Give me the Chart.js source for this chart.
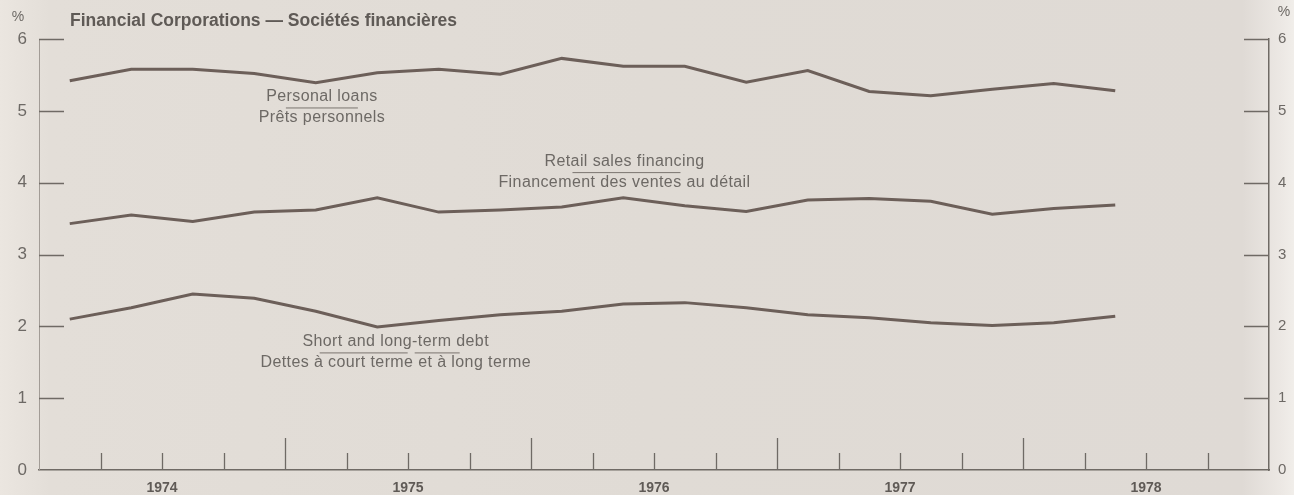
<!DOCTYPE html>
<html>
<head>
<meta charset="utf-8">
<script src="https://cdn.jsdelivr.net/npm/chart.js@4"></script>
<style>
  html, body { margin: 0; padding: 0; }
  body {
    width: 1294px; height: 495px; overflow: hidden;
    background: linear-gradient(to right, #ebe6e0 0px, #e3ded8 50px, #e0dbd5 50%, #dfdad5 96%, #ece8e4 99%, #f1eeea 100%);
  }
  canvas { display: block; }
</style>
</head>
<body>
<canvas id="chart" width="1294" height="495"></canvas>
<script>
// quarterly series, 1974 Q1 – 1978 Q2
const quarters = [
  '1974-Q1', '1974-Q2', '1974-Q3', '1974-Q4',
  '1975-Q1', '1975-Q2', '1975-Q3', '1975-Q4',
  '1976-Q1', '1976-Q2', '1976-Q3', '1976-Q4',
  '1977-Q1', '1977-Q2', '1977-Q3', '1977-Q4',
  '1978-Q1', '1978-Q2'
];
const personalLoans = [5.42, 5.58, 5.58, 5.52, 5.39, 5.53, 5.58, 5.51, 5.73, 5.62, 5.62, 5.40, 5.56, 5.27, 5.21, 5.30, 5.38, 5.28];
const retailSales   = [3.43, 3.55, 3.46, 3.59, 3.62, 3.79, 3.59, 3.62, 3.66, 3.79, 3.68, 3.60, 3.76, 3.78, 3.74, 3.56, 3.64, 3.69];
const debtRatio     = [2.10, 2.26, 2.45, 2.39, 2.21, 1.99, 2.08, 2.16, 2.21, 2.31, 2.33, 2.26, 2.16, 2.12, 2.05, 2.01, 2.05, 2.14];
const yearLabels = ['1974', '1975', '1976', '1977', '1978'];
const yTicks = [0, 1, 2, 3, 4, 5, 6];

const firstYear = Number(yearLabels[0]);
const lastYear = Number(yearLabels[yearLabels.length - 1]) + 1;

// quarter -> decimal year, plotted mid-quarter
function quarterPos(q) {
  const [y, n] = q.split('-Q');
  return Number(y) + (Number(n) - 0.5) / 4;
}
const toPoints = vals => vals.map((v, i) => ({ x: quarterPos(quarters[i]), y: v }));

const INK = '#6c5f59';
const AXIS = '#6f6a65';
const TEXT = '#6d6965';
const FONT = '"Liberation Sans", Arial, sans-serif';

// series captions (English over French, short rule between)
const captions = [
  { en: 'Personal loans', fr: 'Prêts personnels', at: [1975.15, 5.20], rules: [[-36, 36]] },
  { en: 'Retail sales financing', fr: 'Financement des ventes au détail', at: [1976.38, 4.30], rules: [[-52, 56]] },
  { en: 'Short and long-term debt', fr: 'Dettes à court terme et à long terme', at: [1975.45, 1.79], rules: [[-76, 12], [19, 64]] }
];

const decor = {
  id: 'decor',
  afterDraw(chart) {
    const { ctx, chartArea: a, scales } = chart;
    const x = scales.x, y = scales.y;
    ctx.save();

    // quarter ticks on the time axis, longer at year boundaries
    ctx.strokeStyle = AXIS;
    ctx.lineWidth = 1.3;
    x.ticks.forEach(t => {
      if (t.value <= firstYear || t.value >= lastYear) return;
      const px = Math.round(x.getPixelForValue(t.value)) + 0.5;
      const len = Number.isInteger(t.value) ? 32 : 17;
      ctx.beginPath();
      ctx.moveTo(px, a.bottom);
      ctx.lineTo(px, a.bottom - len);
      ctx.stroke();
    });

    // inward ticks on both value axes
    y.ticks.forEach(t => {
      if (t.value === 0) return;
      const py = Math.round(y.getPixelForValue(t.value)) + 0.5;
      ctx.beginPath();
      ctx.moveTo(a.left, py); ctx.lineTo(a.left + 25, py);
      ctx.moveTo(a.right - 25, py); ctx.lineTo(a.right, py);
      ctx.stroke();
    });

    // title and unit marks
    ctx.fillStyle = '#5f5a56';
    ctx.textBaseline = 'middle';
    ctx.textAlign = 'left';
    ctx.font = 'bold 17.5px ' + FONT;
    ctx.fillText('Financial Corporations — Sociétés financières', 70, 21);
    ctx.fillStyle = TEXT;
    ctx.font = '14px ' + FONT;
    ctx.textAlign = 'center';
    ctx.fillText('%', 18, 17);
    ctx.fillText('%', 1284, 12);

    // captions
    ctx.font = '16px ' + FONT;
    ctx.letterSpacing = '0.4px';
    captions.forEach(c => {
      const cx = x.getPixelForValue(c.at[0]);
      const cy = y.getPixelForValue(c.at[1]);
      ctx.fillStyle = TEXT;
      ctx.fillText(c.en, cx, cy);
      ctx.fillText(c.fr, cx, cy + 21);
      ctx.strokeStyle = '#7a746f';
      ctx.lineWidth = 1;
      c.rules.forEach(r => {
        ctx.beginPath();
        ctx.moveTo(cx + r[0], cy + 11.5);
        ctx.lineTo(cx + r[1], cy + 11.5);
        ctx.stroke();
      });
    });
    ctx.restore();
  }
};

const lineStyle = {
  borderColor: INK,
  borderWidth: 3,
  pointRadius: 0,
  tension: 0,
  fill: false
};

new Chart(document.getElementById('chart'), {
  type: 'line',
  data: {
    datasets: [
      { label: 'Personal loans', data: toPoints(personalLoans), ...lineStyle },
      { label: 'Retail sales financing', data: toPoints(retailSales), ...lineStyle },
      { label: 'Short and long-term debt', data: toPoints(debtRatio), ...lineStyle }
    ]
  },
  options: {
    responsive: false,
    animation: false,
    devicePixelRatio: 1,
    layout: { padding: { top: 39, left: 0, right: 0, bottom: 0 } },
    plugins: { legend: { display: false }, tooltip: { enabled: false } },
    scales: {
      x: {
        type: 'linear',
        min: firstYear,
        max: lastYear,
        afterBuildTicks: s => {
          const ticks = [];
          for (let q = 0; q <= (lastYear - firstYear) * 4; q++) ticks.push({ value: firstYear + q / 4 });
          s.ticks = ticks;
        },
        afterFit: s => { s.height = 25; },
        ticks: {
          autoSkip: false,
          maxRotation: 0,
          padding: 10,
          color: '#5f5a56',
          font: { family: FONT, size: 14, weight: 'bold' },
          callback: v => (v % 1 === 0.5 ? yearLabels[Math.floor(v) - firstYear] : '')
        },
        grid: { display: false, drawTicks: false },
        border: { display: true, color: AXIS, width: 1.5 }
      },
      y: {
        position: 'left',
        min: 0,
        max: 6,
        afterBuildTicks: s => { s.ticks = yTicks.map(v => ({ value: v })); },
        afterFit: s => { s.width = 39; },
        ticks: { padding: 12, color: TEXT, font: { family: FONT, size: 17 } },
        grid: { display: false, drawTicks: false },
        border: { display: true, color: '#a29c96', width: 1 }
      },
      y2: {
        position: 'right',
        min: 0,
        max: 6,
        afterBuildTicks: s => { s.ticks = yTicks.map(v => ({ value: v })); },
        afterFit: s => { s.width = 25; },
        ticks: { padding: 9, color: TEXT, font: { family: FONT, size: 15 } },
        grid: { display: false, drawTicks: false },
        border: { display: true, color: AXIS, width: 1.5 }
      }
    }
  },
  plugins: [decor]
});
</script>
</body>
</html>
